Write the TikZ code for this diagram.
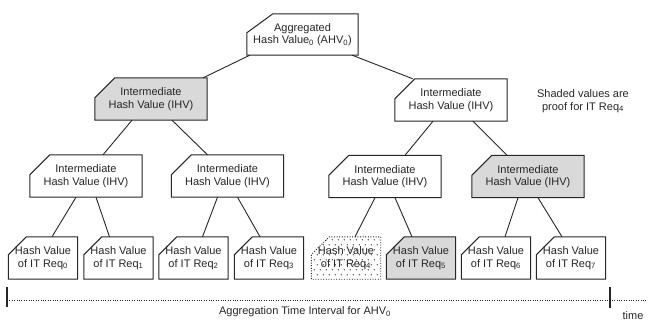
\documentclass[tikz,border=0pt]{standalone}
\usepackage{fontspec}
\setmainfont{Liberation Sans}
\usetikzlibrary{backgrounds}
\newcommand\chbox[4]{% name, xcut, ycut, style
  \draw[#4] (#1.south west) -- ([yshift=-#3]#1.north west) -- ([xshift=#2]#1.north west) -- (#1.north east) -- (#1.south east) -- cycle;}
\begin{document}
\begin{tikzpicture}[x=1pt,y=-1pt,
  txt/.style={font=\fontsize{11}{12.5}\selectfont, align=center, inner sep=0pt, text=black!85},
  big/.style={txt, minimum width=112pt, minimum height=42pt},
  leaf/.style={txt, minimum width=69pt, minimum height=42pt},
  edge/.style={line width=0.9pt, draw=black!85},
  frame/.style={line width=1pt, draw=black!85, fill=white, line join=miter},
  shaded/.style={frame, fill=black!15},
  dotframe/.style={line width=0.9pt, draw=black!85, fill=white, dash pattern=on 1pt off 1.6pt},
]
\useasboundingbox (0,0) rectangle (649,322);
% tree nodes
\node[big, minimum width=111pt, minimum height=41pt] (root) at (302.5,34.5) {Aggregated\\Hash Value\textsubscript{0} (AHV\textsubscript{0})};
\node[big] (ia) at (151,99) {Intermediate\\Hash Value (IHV)};
\node[big] (ib) at (451,100) {Intermediate\\Hash Value (IHV)};
\node[big] (iaa) at (86,176) {Intermediate\\Hash Value (IHV)};
\node[big] (iab) at (227.5,176) {Intermediate\\Hash Value (IHV)};
\node[big] (iba) at (385,176.5) {Intermediate\\Hash Value (IHV)};
\node[big] (ibb) at (528,176.5) {Intermediate\\Hash Value (IHV)};
\node[leaf] (l0) at (43,258) {Hash Value\\of IT Req\textsubscript{0}};
\node[leaf] (l1) at (118.5,258) {Hash Value\\of IT Req\textsubscript{1}};
\node[leaf] (l2) at (193.5,258) {Hash Value\\of IT Req\textsubscript{2}};
\node[leaf] (l3) at (269,258) {Hash Value\\of IT Req\textsubscript{3}};
\node[leaf] (l4) at (346,258) {Hash Value\\of IT Req\textsubscript{4}};
\node[leaf] (l5) at (421,258) {Hash Value\\of IT Req\textsubscript{5}};
\node[leaf] (l6) at (496,258) {Hash Value\\of IT Req\textsubscript{6}};
\node[leaf] (l7) at (571,258) {Hash Value\\of IT Req\textsubscript{7}};
\node[txt] (note) at (583,101) {Shaded values are\\proof for IT Req\textsubscript{4}};
% box outlines
\begin{pgfonlayer}{background}
\chbox{root}{26pt}{19pt}{frame}
\chbox{ia}{20pt}{20pt}{shaded}
\chbox{ib}{20pt}{20pt}{frame}
\chbox{iaa}{20pt}{20pt}{frame}
\chbox{iab}{20pt}{20pt}{frame}
\chbox{iba}{20pt}{20pt}{frame}
\chbox{ibb}{20pt}{20pt}{shaded}
\chbox{l0}{18pt}{18pt}{frame}
\chbox{l1}{18pt}{18pt}{frame}
\chbox{l2}{18pt}{18pt}{frame}
\chbox{l3}{18pt}{18pt}{frame}
\chbox{l4}{18pt}{18pt}{dotframe}
\begin{scope}
  \clip (l4.south west) -- ([yshift=-18pt]l4.north west) -- ([xshift=18pt]l4.north west) -- (l4.north east) -- (l4.south east) -- cycle;
  \foreach \j in {0,...,8}{
    \foreach \i in {0,...,11}{
      \fill[black!80] (l4.north west) ++({3+\i*6+mod(\j,2)*3},{3+\j*5}) circle (0.65pt);
    }
  }
\end{scope}
\chbox{l5}{18pt}{18pt}{shaded}
\chbox{l6}{18pt}{18pt}{frame}
\chbox{l7}{18pt}{18pt}{frame}
\end{pgfonlayer}
% connectors
\draw[edge] ([xshift=3pt]root.south west) -- ([xshift=-4pt]ia.north east);
\draw[edge] ([xshift=-6pt]root.south east) -- ([xshift=18pt]ib.north west);
\draw[edge] ([xshift=-19pt]ia.south) -- ([xshift=17pt]iaa.north);
\draw[edge] ([xshift=21pt]ia.south) -- ([xshift=-20pt]iab.north);
\draw[edge] ([xshift=-18pt]ib.south) -- ([xshift=20pt]iba.north);
\draw[edge] ([xshift=22pt]ib.south) -- ([xshift=-21pt]ibb.north);
\draw[edge] ([xshift=-10pt]iaa.south) -- ([xshift=9pt]l0.north);
\draw[edge] ([xshift=10pt]iaa.south) -- ([xshift=-9pt]l1.north);
\draw[edge] ([xshift=-10pt]iab.south) -- ([xshift=9pt]l2.north);
\draw[edge] ([xshift=10pt]iab.south) -- ([xshift=-9pt]l3.north);
\draw[edge] ([xshift=-10pt]iba.south) -- ([xshift=9pt]l4.north);
\draw[edge] ([xshift=10pt]iba.south) -- ([xshift=-9pt]l5.north);
\draw[edge] ([xshift=-10pt]ibb.south) -- ([xshift=9pt]l6.north);
\draw[edge] ([xshift=10pt]ibb.south) -- ([xshift=-9pt]l7.north);
% timeline
\coordinate (ta) at (7,300);
\coordinate (tb) at (610,300);
\coordinate (tc) at (647,300);
\draw[line width=0.9pt, dash pattern=on 0.9pt off 1.5pt, draw=black!85] (ta) -- (tc);
\draw[line width=2pt, draw=black!85] ([yshift=13pt]ta) -- ([yshift=-7pt]ta);
\draw[line width=1.6pt, draw=black!85] ([yshift=13pt]tb) -- ([yshift=-8pt]tb);
\node[txt] (lbl) at (305,312) {Aggregation Time Interval for AHV\textsubscript{0}};
\node[txt] (time) at (633,316) {time};
\end{tikzpicture}
\end{document}
